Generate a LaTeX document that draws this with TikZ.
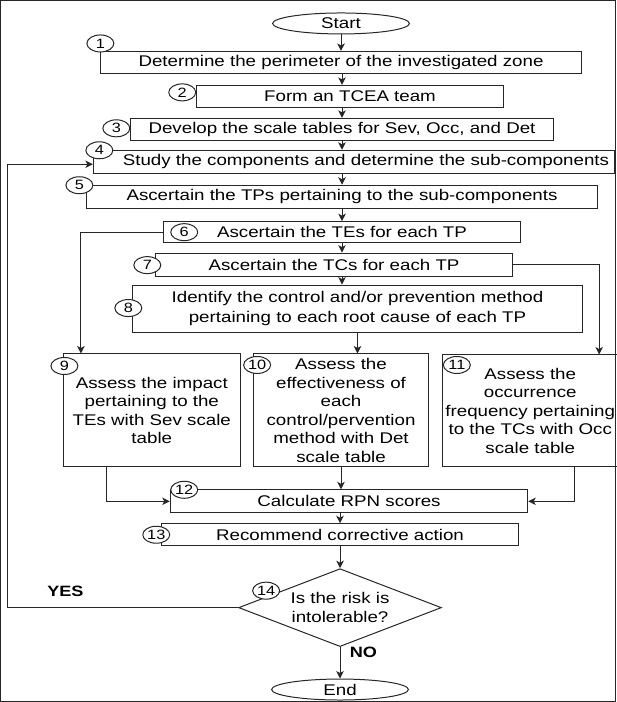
\documentclass[tikz,border=0pt]{standalone}
\usepackage{fontspec}
\setmainfont{Liberation Sans}[FakeStretch=1.21]
\usetikzlibrary{shapes.geometric,arrows.meta,calc}
\newcommand\boxfont{\fontsize{15.5}{18.5}\selectfont}
\newcommand\numfont{\fontsize{13.5}{15}\selectfont}
\begin{document}
\begin{tikzpicture}[x=1pt,y=-1pt,
  every path/.style={line width=1pt, draw=black!85},
  box/.style={draw, inner sep=0pt, align=center, font=\boxfont, text=black},
  term/.style={draw, ellipse, inner sep=0pt, minimum width=137pt, minimum height=21pt, font=\boxfont},
  dec/.style={draw, diamond, aspect=2.6, inner sep=0pt, minimum width=203pt, minimum height=78pt, align=center, font=\boxfont},
  num/.style={draw, ellipse, fill=white, inner sep=0pt, minimum width=27pt, minimum height=17pt, font=\numfont},
  arr/.style={-{Stealth[length=7.5pt,width=7.5pt,inset=2pt]}},
  lab/.style={font=\fontsize{15}{18}\selectfont\bfseries}]
\useasboundingbox (0,0) rectangle (616,702);

% terminals
\node[term] (start) at (341,23) {Start};
\node[term] (end) at (340,690) {End};

% boxes
\node[box, minimum width=482pt, minimum height=22pt] (b1) at (341,62) {Determine the perimeter of the investigated zone};
\node[box, minimum width=308pt, minimum height=22pt] (b2) at (350,96) {Form an TCEA team};
\node[box, minimum width=424pt, minimum height=22pt] (b3) at (342,129) {Develop the scale tables for Sev, Occ, and Det};
\node[box, minimum width=522pt, minimum height=23pt] (b4) at (354,161.5) {\hspace*{24pt}Study the components and determine the sub-components};
\node[box, minimum width=512pt, minimum height=23pt] (b5) at (342,196.5) {Ascertain the TPs pertaining to the sub-components};
\node[box, minimum width=358pt, minimum height=21pt] (b6) at (342,232) {Ascertain the TEs for each TP};
\node[box, minimum width=358pt, minimum height=23pt] (b7) at (334,264.5) {Ascertain the TCs for each TP};
\node[box, minimum width=451pt, minimum height=47pt, font=\fontsize{15.5}{19.5}\selectfont] (b8) at (357.5,308.5) {Identify the control and/or prevention method\\pertaining to each root cause of each TP};
\node[box, minimum width=177pt, minimum height=113pt] (b9) at (151.5,410.5) {Assess the impact\\pertaining to the\\TEs with Sev scale\\table};
\node[box, minimum width=176pt, minimum height=113pt] (b10) at (341,410.5) {Assess the\\effectiveness of\\each\\control/pervention\\method with Det\\scale table};
\node[box, minimum width=175pt, minimum height=112pt] (b11) at (530.5,411) {Assess the\\occurrence\\frequency pertaining\\to the TCs with Occ\\scale table};
\node[box, minimum width=358pt, minimum height=23pt] (b12) at (349,501.5) {Calculate RPN scores};
\node[box, minimum width=358pt, minimum height=22pt] (b13) at (340,535) {Recommend corrective action};
\node[dec] (d) at (340,608) {Is the risk is\\intolerable?};

% connectors
\draw[arr] (start.south) -- (start.south |- b1.north);
\draw[arr] (b3.north |- b1.south) -- (b3.north |- b2.north);
\draw[arr] (b3.north |- b2.south) -- (b3.north);
\draw[arr] (b3.south) -- (b3.south |- b4.north);
\draw[arr] (b5.north |- b4.south) -- (b5.north);
\draw[arr] (b5.south) -- (b6.north);
\draw[arr] (b6.south) -- (b6.south |- b7.north);
\draw[arr] (b6.south |- b7.south) -- (b6.south |- b8.north);
\draw[arr] (b8.south) -- (b8.south |- b10.north);
\draw[arr] (b6.west) -| ($(b9.north west)+(18,0)$);
\draw[arr] (b7.east) -| ($(b11.north west)+(157,0)$);
\draw[arr] ($(b9.south west)+(44,0)$) |- (b12.west);
\draw[arr] (b10.south) -- (b10.south |- b12.north);
\draw[arr] ($(b11.south west)+(132,0)$) |- (b12.east);
\draw[arr] (b13.north |- b12.south) -- (b13.north);
\draw[arr] (b13.south) -- (d.north);
\draw[arr] (d.south) -- (end.north);
\coordinate (fb) at (7,608);
\draw[arr] (d.west) -- (fb) |- ($(b4.west)+(0,2.5)$);

% labels
\node[lab, anchor=west] (yes) at (43,592) {YES};
\node[lab, anchor=west] (no) at (346,653) {NO};

% step numbers
\node[num] (n1) at (100,43) {1};
\node[num] (n2) at (182,92) {2};
\node[num] (n3) at (116,128) {3};
\node[num] (n4) at (99,150) {4};
\node[num] (n5) at (79,185) {5};
\node[num] (n6) at (184,232) {6};
\node[num] (n7) at (147,265) {7};
\node[num] (n8) at (128,308) {8};
\node[num] (n9) at (64,366) {9};
\node[num] (n10) at (257,365) {10};
\node[num] (n11) at (457,365) {11};
\node[num] (n12) at (184,490) {12};
\node[num] (n13) at (156,535) {13};
\node[num] (n14) at (266,591) {14};
\end{tikzpicture}
\end{document}
